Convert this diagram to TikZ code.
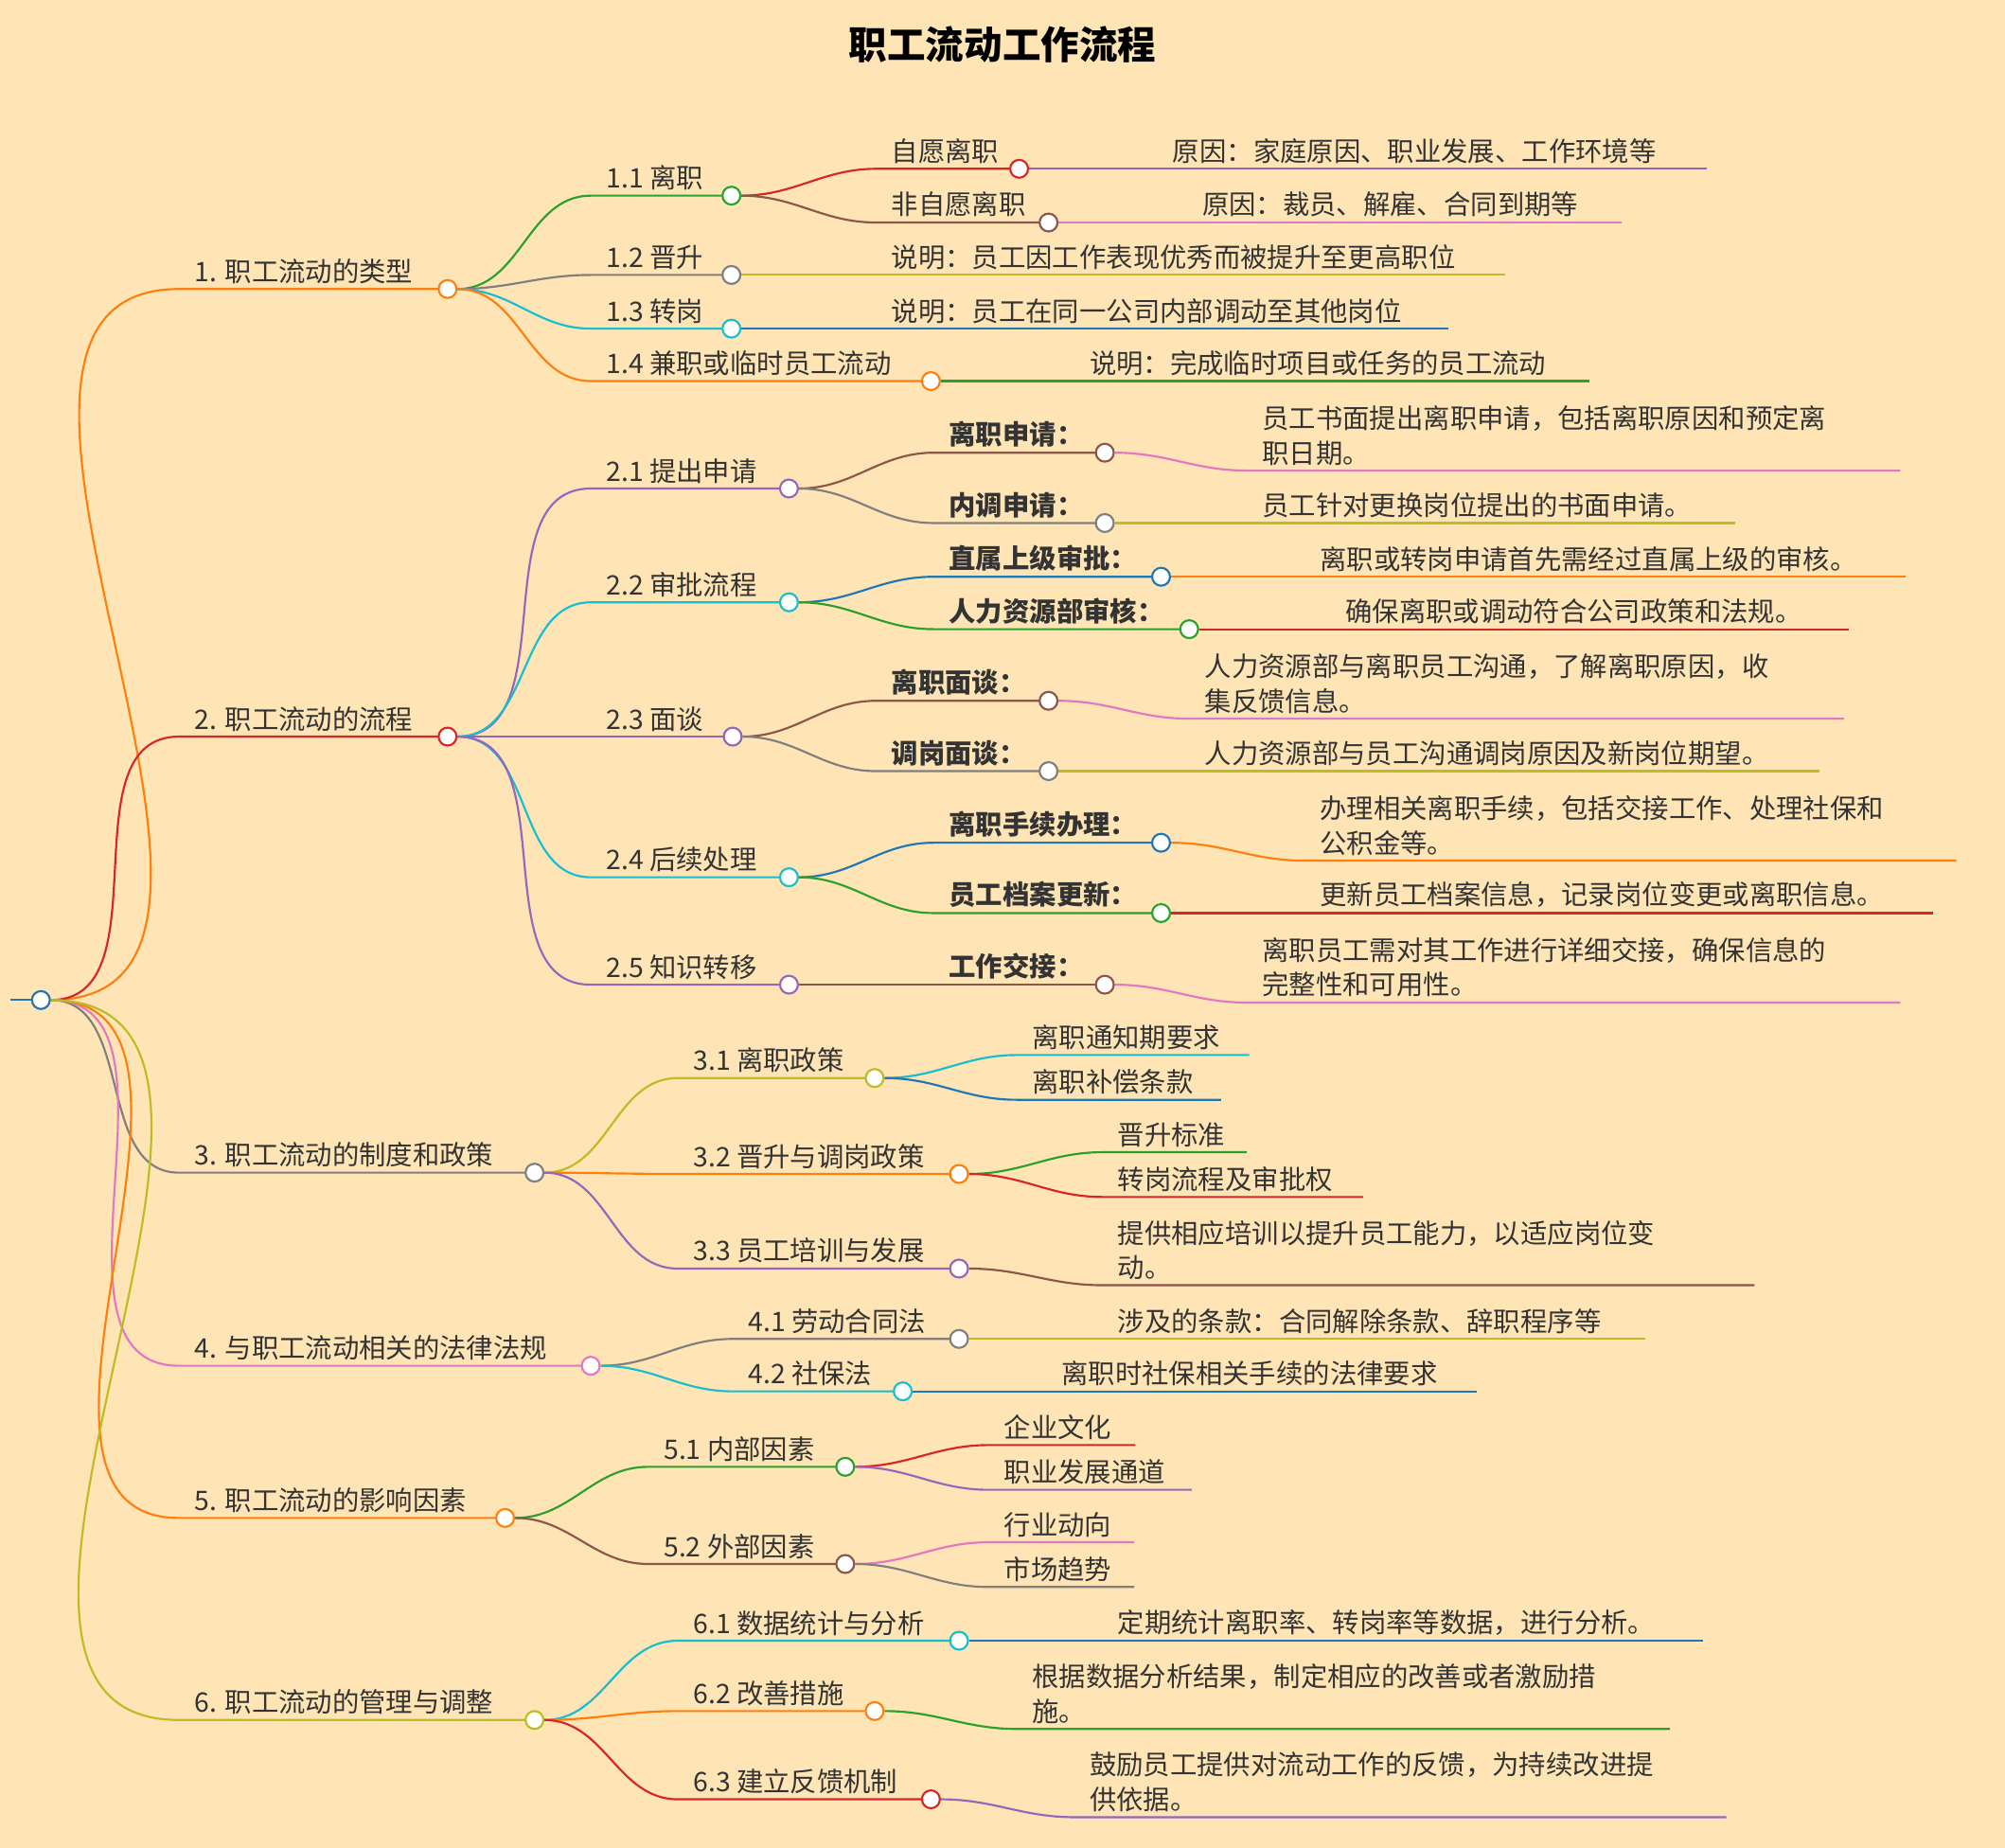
\documentclass[tikz,border=0pt]{standalone}
\usepackage{fontspec}
\setmainfont{Noto Sans CJK SC}
\pgfdeclarelayer{bg}
\pgfsetlayers{bg,main}
\definecolor{cor}{HTML}{FF7F0E}\definecolor{cgr}{HTML}{2CA02C}\definecolor{cre}{HTML}{D62728}
\definecolor{cbr}{HTML}{8C564B}\definecolor{cpu}{HTML}{9467BD}\definecolor{cpi}{HTML}{E377C2}
\definecolor{cga}{HTML}{7F7F7F}\definecolor{col}{HTML}{BCBD22}\definecolor{ccy}{HTML}{17BECF}
\definecolor{cbl}{HTML}{1F77B4}\definecolor{bgc}{HTML}{FFE4B5}\definecolor{tx}{HTML}{333333}
\tikzset{
 txt/.style={inner sep=0pt,text=tx,font=\fontsize{21}{27}\selectfont,align=left},
 dot/.style={circle,fill=white,line width=1.6pt,minimum size=14pt,inner sep=0pt},
 lk/.style={line width=1.6pt}}
\newcommand\br[7]{%
 \begin{pgfonlayer}{bg}\draw[#6,lk] (#2) to[out=0,in=180] (#3,#5) -- (#4,#5);\end{pgfonlayer}
 \node[txt,anchor=south west] (#1t) at (#3+12,#5-4) {#7};
 \node[dot,draw=#6] (#1) at (#4,#5) {};}
\newcommand\lf[7]{%
 \begin{pgfonlayer}{bg}\draw[#6,lk] (#2) to[out=0,in=180] (#3,#5) -- (#4,#5) coordinate (#1);\end{pgfonlayer}
 \node[txt,anchor=south west] (#1t) at (#3+12,#5-4) {#7};}
\begin{document}
\begin{tikzpicture}[x=1pt,y=-1pt]
\begin{pgfonlayer}{bg}\fill[bgc] (0,0) rectangle (1568,1445);\end{pgfonlayer}
\useasboundingbox (0,0) rectangle (1568,1445);
\node[txt,font=\fontsize{30}{36}\selectfont\bfseries,text=black] (title) at (784,35) {职工流动工作流程};
\coordinate (r0) at (8,782);
\node[dot,draw=cbl] (r) at (32,782) {};
\begin{pgfonlayer}{bg}\draw[cbl,lk] (r0) -- (r);\end{pgfonlayer}
% 1
\br{a}{r}{140}{350}{226}{cor}{1. 职工流动的类型}
\br{a1}{a}{462}{572}{153}{cgr}{1.1 离职}
\br{a11}{a1}{685}{797}{132}{cre}{自愿离职}
\lf{a111}{a11}{905}{1335}{132}{cpu}{原因：家庭原因、职业发展、工作环境等}
\br{a12}{a1}{685}{820}{174}{cbr}{非自愿离职}
\lf{a121}{a12}{928}{1268}{174}{cpi}{原因：裁员、解雇、合同到期等}
\br{a2}{a}{462}{572}{215}{cga}{1.2 晋升}
\lf{a21}{a2}{685}{1177}{215}{col}{说明：员工因工作表现优秀而被提升至更高职位}
\br{a3}{a}{462}{572}{257}{ccy}{1.3 转岗}
\lf{a31}{a3}{685}{1133}{257}{cbl}{说明：员工在同一公司内部调动至其他岗位}
\br{a4}{a}{462}{728}{298}{cor}{1.4 兼职或临时员工流动}
\lf{a41}{a4}{840}{1243}{298}{cgr}{说明：完成临时项目或任务的员工流动}
% 2
\br{b}{r}{140}{350}{576}{cre}{2. 职工流动的流程}
\br{b1}{b}{462}{617}{382}{cpu}{2.1 提出申请}
\br{b11}{b1}{730}{864}{354}{cbr}{\bfseries 离职申请：}
\lf{b111}{b11}{975}{1486}{368}{cpi}{员工书面提出离职申请，包括离职原因和预定离\\职日期。}
\br{b12}{b1}{730}{864}{409}{cga}{\bfseries 内调申请：}
\lf{b121}{b12}{975}{1357}{409}{col}{员工针对更换岗位提出的书面申请。}
\br{b2}{b}{462}{617}{471}{ccy}{2.2 审批流程}
\br{b21}{b2}{730}{908}{451}{cbl}{\bfseries 直属上级审批：}
\lf{b211}{b21}{1020}{1490}{451}{cor}{离职或转岗申请首先需经过直属上级的审核。}
\br{b22}{b2}{730}{930}{492}{cgr}{\bfseries 人力资源部审核：}
\lf{b221}{b22}{1040}{1446}{492}{cre}{确保离职或调动符合公司政策和法规。}
\br{b3}{b}{462}{573}{576}{cpu}{2.3 面谈}
\br{b31}{b3}{685}{820}{548}{cbr}{\bfseries 离职面谈：}
\lf{b311}{b31}{930}{1442}{562}{cpi}{人力资源部与离职员工沟通，了解离职原因，收\\集反馈信息。}
\br{b32}{b3}{685}{820}{603}{cga}{\bfseries 调岗面谈：}
\lf{b321}{b32}{930}{1423}{603}{col}{人力资源部与员工沟通调岗原因及新岗位期望。}
\br{b4}{b}{462}{617}{686}{ccy}{2.4 后续处理}
\br{b41}{b4}{730}{908}{659}{cbl}{\bfseries 离职手续办理：}
\lf{b411}{b41}{1020}{1530}{673}{cor}{办理相关离职手续，包括交接工作、处理社保和\\公积金等。}
\br{b42}{b4}{730}{908}{714}{cgr}{\bfseries 员工档案更新：}
\lf{b421}{b42}{1020}{1512}{714}{cre}{更新员工档案信息，记录岗位变更或离职信息。}
\br{b5}{b}{462}{617}{770}{cpu}{2.5 知识转移}
\br{b51}{b5}{730}{864}{770}{cbr}{\bfseries 工作交接：}
\lf{b511}{b51}{975}{1486}{784}{cpi}{离职员工需对其工作进行详细交接，确保信息的\\完整性和可用性。}
% 3
\br{c}{r}{140}{418}{917}{cga}{3. 职工流动的制度和政策}
\br{c1}{c}{530}{684}{843}{col}{3.1 离职政策}
\lf{c11}{c1}{795}{977}{825}{ccy}{离职通知期要求}
\lf{c12}{c1}{795}{955}{860}{cbl}{离职补偿条款}
\br{c2}{c}{530}{750}{918}{cor}{3.2 晋升与调岗政策}
\lf{c21}{c2}{862}{975}{901}{cgr}{晋升标准}
\lf{c22}{c2}{862}{1066}{936}{cre}{转岗流程及审批权}
\br{c3}{c}{530}{750}{992}{cpu}{3.3 员工培训与发展}
\lf{c31}{c3}{862}{1372}{1005}{cbr}{提供相应培训以提升员工能力，以适应岗位变\\动。}
% 4
\br{d}{r}{140}{462}{1068}{cpi}{4. 与职工流动相关的法律法规}
\br{d1}{d}{573}{750}{1047}{cga}{4.1 劳动合同法}
\lf{d11}{d1}{862}{1287}{1047}{col}{涉及的条款：合同解除条款、辞职程序等}
\br{d2}{d}{573}{706}{1088}{ccy}{4.2 社保法}
\lf{d21}{d2}{818}{1155}{1088}{cbl}{离职时社保相关手续的法律要求}
% 5
\br{e}{r}{140}{395}{1187}{cor}{5. 职工流动的影响因素}
\br{e1}{e}{507}{661}{1147}{cgr}{5.1 内部因素}
\lf{e11}{e1}{773}{888}{1130}{cre}{企业文化}
\lf{e12}{e1}{773}{932}{1165}{cpu}{职业发展通道}
\br{e2}{e}{507}{661}{1223}{cbr}{5.2 外部因素}
\lf{e21}{e2}{773}{887}{1206}{cpi}{行业动向}
\lf{e22}{e2}{773}{887}{1241}{cga}{市场趋势}
% 6
\br{f}{r}{140}{418}{1345}{col}{6. 职工流动的管理与调整}
\br{f1}{f}{530}{750}{1283}{ccy}{6.1 数据统计与分析}
\lf{f11}{f1}{862}{1332}{1283}{cbl}{定期统计离职率、转岗率等数据，进行分析。}
\br{f2}{f}{530}{684}{1338}{cor}{6.2 改善措施}
\lf{f21}{f2}{795}{1306}{1352}{cgr}{根据数据分析结果，制定相应的改善或者激励措\\施。}
\br{f3}{f}{530}{728}{1407}{cre}{6.3 建立反馈机制}
\lf{f31}{f3}{840}{1350}{1421}{cpu}{鼓励员工提供对流动工作的反馈，为持续改进提\\供依据。}
\end{tikzpicture}
\end{document}
